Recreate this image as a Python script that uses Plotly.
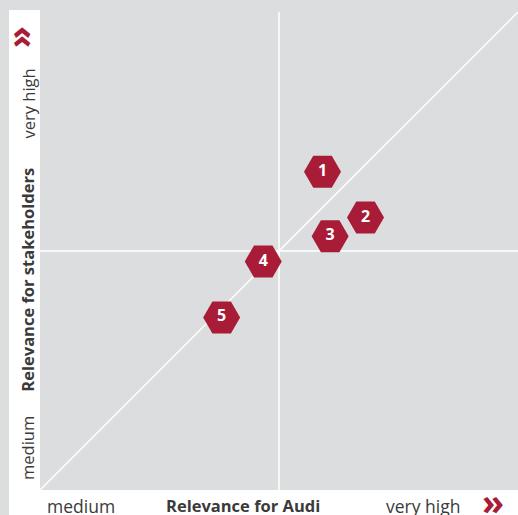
import plotly.graph_objects as go

labels = ["1", "2", "3", "4", "5"]
audi = [59.1, 68.1, 60.7, 46.7, 38.0]
stakeholders = [66.6, 57.0, 53.1, 47.8, 36.1]

GRAY = "#dcdddf"
RED = "#a81c38"
TXT = "#3a3a3a"
FONT = "Open Sans"

fig = go.Figure()
fig.add_trace(go.Scatter(
    x=audi, y=stakeholders, mode="markers+text", text=labels,
    textposition="middle center",
    textfont=dict(family=FONT, size=16, color="white", weight="bold"),
    marker=dict(symbol="hexagon2", size=37, color=RED, line=dict(width=0)),
    hoverinfo="skip", showlegend=False,
))

shapes = [
    dict(type="rect", xref="paper", yref="paper", x0=-0.0649, x1=0, y0=-0.0523, y1=1.004,
         fillcolor="white", line=dict(width=0), layer="below"),
    dict(type="rect", xref="paper", yref="paper", x0=-0.0649, x1=1.0, y0=-0.0523, y1=0,
         fillcolor="white", line=dict(width=0), layer="below"),
    dict(type="line", xref="x", yref="y", x0=50, x1=50, y0=0, y1=100,
         line=dict(color="white", width=1.5), layer="below"),
    dict(type="line", xref="x", yref="y", x0=0, x1=100, y0=50, y1=50,
         line=dict(color="white", width=1.5), layer="below"),
    dict(type="line", xref="x", yref="y", x0=0, x1=100, y0=0, y1=100,
         line=dict(color="white", width=1.5), layer="below"),
]

ann = []
def a(text, x, y, angle=0, bold=False, size=16.5, color=TXT):
    ann.append(dict(text=text, x=x, y=y, xref="paper", yref="paper", showarrow=False,
                    textangle=angle, xanchor="center", yanchor="middle",
                    font=dict(family=FONT, size=size, color=color,
                              weight="bold" if bold else "normal")))

a("very high", -0.0251, 0.8086, angle=-90)
a("Relevance for stakeholders", -0.0251, 0.440, angle=-90, bold=True)
a("medium", -0.0251, 0.0879, angle=-90)
a("»", -0.046, 0.947, angle=-90, bold=True, size=36, color=RED)
a("medium", 0.0868, -0.033, size=17.5)
a("Relevance for Audi", 0.4247, -0.033, bold=True, size=16.5)
a("very high", 0.801, -0.033, size=17.5)
a("»", 0.9477, -0.0245, bold=True, size=36, color=RED)

fig.update_layout(
    width=518, height=515,
    margin=dict(l=40, r=0, t=12, b=25),
    paper_bgcolor=GRAY, plot_bgcolor=GRAY,
    xaxis=dict(range=[0, 100], showgrid=False, zeroline=False, showticklabels=False,
               ticks="", showline=False, fixedrange=True),
    yaxis=dict(range=[0, 100], showgrid=False, zeroline=False, showticklabels=False,
               ticks="", showline=False, fixedrange=True),
    shapes=shapes, annotations=ann,
)
fig.write_html("out.html", config={"displayModeBar": False},
               post_script="document.body.style.margin='0';document.body.style.overflow='hidden';")
